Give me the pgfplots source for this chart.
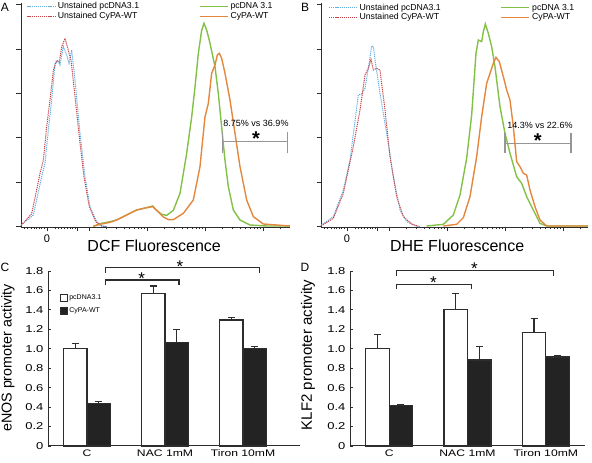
\documentclass[border=0pt]{standalone}
\usepackage{fontspec}
\setmainfont{Liberation Sans}
\usepackage{pgfplots}
\pgfplotsset{compat=1.18}

\definecolor{cblue}{RGB}{95,175,225}
\definecolor{cred}{RGB}{200,65,70}
\definecolor{cgreen}{RGB}{130,192,70}
\definecolor{corange}{RGB}{228,135,60}
\definecolor{cgray}{RGB}{150,150,150}
\definecolor{cdark}{RGB}{45,45,45}
\definecolor{cblack}{RGB}{35,35,35}

\pgfplotsset{
 flowaxis/.style={
  scale only axis, anchor=south west,
  xmin=63, ymin=0, ymax=672, height=224pt,
  axis lines=left, axis line style={-, line width=0.9pt, draw=cdark},
  clip=false,
  tick align=outside, tick style={draw=cdark, line width=0.6pt},
  major tick length=4.5pt, minor tick length=2.5pt,
  ytick={1,134,268,401,534,668}, yticklabels={},
  xtick={141,231,267,441,615,789}, xticklabels={0,{},{},{},{},{}},
  minor xtick={72,81,93,102,108,117,123,132,165,174,183,192,201,210,216,225,319,350,372,389,402,414,424,433,493,524,546,563,576,588,598,607,667,698,720,737,750,762,772,781,841},
  xticklabel style={font=\fontsize{11}{12}\selectfont},
  /pgf/number format/assume math mode=true,
  legend columns=2,
  legend cell align=left,
  legend image code/.code={\draw[#1] (0pt,0pt) -- (28pt,0pt);},
  legend style={draw=none, fill=none, anchor=north west, inner sep=0pt,
     font=\fontsize{8.7}{9}\selectfont, row sep=-2pt,
     /tikz/every even column/.append style={column sep=58pt}},
  xlabel style={font=\fontsize{16}{18}\selectfont, anchor=center},
 },
 unst/.style={line width=1pt, dash pattern=on 1.2pt off 0.9pt},
 stn/.style={line width=1.4pt},
 brk/.style={cgray, line width=1.2pt, forget plot},
 barax/.style={
  scale only axis, anchor=south west, height=175pt,
  ymin=0, ymax=1.8, ytick={0,0.2,0.4,0.6,0.8,1.0,1.2,1.4,1.6,1.8},
  yticklabels={0,0.2,0.4,0.6,0.8,1.0,1.2,1.4,1.6,1.8},
  axis lines=left, axis line style={-, line width=1pt, draw=cdark},
  xtick={0,1,2}, xticklabels={C,NAC 1mM,Tiron 10mM},
  xtick style={draw=none}, ytick style={draw=cdark, line width=0.8pt},
  tick align=inside, major tick length=3pt,
  clip=false,
  /pgf/number format/assume math mode=true,
  yticklabel style={font=\fontsize{10}{12}\selectfont, xscale=1.3},
  xticklabel style={font=\fontsize{9.5}{11}\selectfont, xscale=1.28},
  ylabel style={anchor=center},
 },
 wbar/.style={ybar, bar width=0.3, bar shift=-0.15, fill=white, draw=cdark, line width=1.3pt, forget plot},
 kbar/.style={ybar, bar width=0.3, bar shift=0.15, fill=cblack, draw=cdark, line width=1.3pt, forget plot},
 ebar/.style={draw=none, mark=none, forget plot,
   error bars/y dir=plus, error bars/y explicit, error bars/error mark=|,
   error bars/error bar style={line width=1.2pt, draw=cdark, solid},
   error bars/error mark options={line width=1.2pt, mark size=3.5pt, draw=cdark, solid}},
 sig/.style={cdark, line width=1.2pt, forget plot},
}

\begin{document}
\begin{tikzpicture}
\path[use as bounding box] (0pt,0pt) rectangle (592pt,463pt);

% ---------------- Panel A ----------------
\begin{axis}[flowaxis, at={(21pt,236pt)}, width=269pt, xmax=870,
  xlabel={DCF Fluorescence}, xlabel style={at={(axis description cs:0.495,-0.085)}},
  legend style={at={(axis cs:80,680)}}]
\addplot[unst, cblue] coordinates {(63,6)(100,36)(125,151)(135,191)(145,291)(155,381)(165,491)(175,496)(180,486)(190,541)(200,516)(207,491)(215,531)(225,441)(240,281)(255,151)(270,61)(290,16)(305,3)(320,1)};
\addlegendentry{Unstained pcDNA3.1}
\addplot[stn, cgreen] coordinates {(280,2)(300,10)(330,16)(350,21)(380,36)(410,51)(440,58)(458,63)(470,50)(485,38)(500,35)(520,50)(540,101)(560,221)(575,330)(585,420)(595,521)(605,590)(612,611)(620,591)(630,551)(645,481)(655,400)(665,300)(675,200)(685,121)(700,51)(720,21)(750,6)(800,3)(870,3)};
\addlegendentry{pcDNA 3.1}
\addplot[unst, cred] coordinates {(63,4)(95,40)(120,160)(130,200)(140,300)(150,380)(160,470)(170,500)(178,495)(185,540)(195,566)(205,530)(213,500)(222,420)(238,270)(252,150)(268,60)(288,15)(305,3)(320,1)};
\addlegendentry{Unstained CyPA-WT}
\addplot[stn, corange] coordinates {(280,2)(300,8)(330,14)(350,21)(380,36)(410,51)(440,58)(458,61)(470,50)(490,30)(505,22)(520,22)(550,41)(580,81)(600,181)(615,331)(625,371)(635,461)(645,486)(652,516)(658,521)(665,506)(675,461)(690,381)(705,281)(720,181)(740,81)(760,31)(790,9)(870,3)};
\addlegendentry{CyPA-WT}
\addplot[brk] coordinates {(668,286)(668,221)};
\addplot[brk] coordinates {(668,256)(862,256)};
\addplot[brk] coordinates {(862,286)(862,221)};
\node[font=\fontsize{9}{10}\selectfont] at (axis cs:768,311) {8.75\% vs 36.9\%};
\node[font=\fontsize{20}{20}\selectfont\bfseries, yshift=-4pt] at (axis cs:768,276) {*};
\end{axis}

% ---------------- Panel B ----------------
\begin{axis}[flowaxis, at={(321pt,236pt)}, width=267pt, xmax=864,
  xlabel={DHE Fluorescence}, xlabel style={at={(axis description cs:0.51,-0.085)}},
  legend style={at={(axis cs:85,676)}}]
\addplot[unst, cblue] coordinates {(63,5)(100,31)(130,111)(150,201)(175,396)(185,399)(195,416)(205,476)(215,543)(220,541)(228,481)(240,401)(260,281)(280,151)(300,51)(320,16)(345,4)(360,1)};
\addlegendentry{Unstained pcDNA3.1}
\addplot[stn, cgreen] coordinates {(380,3)(430,8)(460,36)(480,96)(500,206)(515,336)(528,521)(535,561)(545,556)(550,586)(556,609)(565,581)(575,541)(585,481)(600,361)(615,281)(630,221)(650,151)(665,131)(680,91)(700,51)(720,11)(740,3)(864,3)};
\addlegendentry{pcDNA 3.1}
\addplot[unst, cred] coordinates {(63,3)(100,26)(130,101)(160,241)(180,351)(195,456)(205,476)(213,503)(220,471)(230,476)(240,471)(255,351)(270,211)(290,91)(310,31)(335,9)(355,2)};
\addlegendentry{Unstained CyPA-WT}
\addplot[stn, corange] coordinates {(430,3)(470,8)(490,28)(510,91)(530,211)(545,331)(560,431)(570,461)(580,491)(588,509)(598,496)(610,451)(620,411)(630,381)(640,301)(650,196)(660,181)(670,161)(680,156)(690,111)(705,61)(720,21)(740,3)(864,3)};
\addlegendentry{CyPA-WT}
\addplot[brk] coordinates {(615,281)(615,223)};
\addplot[brk] coordinates {(615,251)(813,251)};
\addplot[brk] coordinates {(813,281)(813,223)};
\node[font=\fontsize{9}{10}\selectfont] at (axis cs:720,306) {14.3\% vs 22.6\%};
\node[font=\fontsize{20}{20}\selectfont\bfseries, yshift=-4pt] at (axis cs:713,271) {*};
\end{axis}

% ---------------- Panel C ----------------
\begin{axis}[barax, at={(48pt,17pt)}, width=252pt, xmin=-0.5, xmax=2.73,
  ylabel={eNOS promoter activity}, ylabel style={at={(axis description cs:-0.159,0.503)}, font=\fontsize{14.3}{16}\selectfont},
  legend style={draw=none, fill=none, at={(axis description cs:0.045,0.875)}, anchor=north west,
     inner sep=0pt, font=\fontsize{7}{8}\selectfont, row sep=2pt},
  legend cell align=left]
\addlegendimage{legend image code/.code={\draw[fill=white,draw=cdark,line width=0.8pt] (0pt,-3.5pt) rectangle (7pt,3.5pt);}}
\addlegendentry{pcDNA3.1}
\addlegendimage{legend image code/.code={\draw[fill=cblack,draw=cdark,line width=0.8pt] (0pt,-3.5pt) rectangle (7pt,3.5pt);}}
\addlegendentry{CyPA-WT}
\addplot[wbar] coordinates {(0,1.0) (1,1.569) (2,1.297)};
\addplot[kbar] coordinates {(0,0.44) (1,1.067) (2,1.005)};
\addplot[ebar] coordinates {(-0.15,1.0) +- (0,0.053) (0.85,1.569) +- (0,0.076) (1.85,1.297) +- (0,0.021)};
\addplot[ebar] coordinates {(0.15,0.44) +- (0,0.018) (1.15,1.067) +- (0,0.131) (2.15,1.005) +- (0,0.017)};
\addplot[sig] coordinates {(0.235,1.78)(0.235,1.834)(2.21,1.834)(2.21,1.78)};
\addplot[sig] coordinates {(0.235,1.655)(0.235,1.707)(1.18,1.707)(1.18,1.655)};
\node[font=\fontsize{17}{17}\selectfont, yshift=-3.6pt] at (axis cs:1.19,1.886) {*};
\node[font=\fontsize{17}{17}\selectfont, yshift=-3.6pt] at (axis cs:0.70,1.76) {*};
\end{axis}

% ---------------- Panel D ----------------
\begin{axis}[barax, at={(350pt,17pt)}, width=235pt, xmin=-0.5, xmax=2.5,
  ylabel={KLF2 promoter activity}, ylabel style={at={(axis description cs:-0.179,0.52)}, font=\fontsize{15}{17}\selectfont}]
\addplot[wbar] coordinates {(0,1.0) (1,1.401) (2,1.166)};
\addplot[kbar] coordinates {(0,0.413) (1,0.886) (2,0.914)};
\addplot[ebar] coordinates {(-0.15,1.0) +- (0,0.146) (0.85,1.401) +- (0,0.171) (1.85,1.166) +- (0,0.147)};
\addplot[ebar] coordinates {(0.15,0.413) +- (0,0.017) (1.15,0.886) +- (0,0.14) (2.15,0.914) +- (0,0.017)};
\addplot[sig] coordinates {(0.098,1.749)(0.098,1.807)(2.10,1.807)(2.10,1.749)};
\addplot[sig] coordinates {(0.098,1.613)(0.098,1.664)(1.05,1.664)(1.05,1.613)};
\node[font=\fontsize{17}{17}\selectfont, yshift=-3.6pt] at (axis cs:1.087,1.858) {*};
\node[font=\fontsize{17}{17}\selectfont, yshift=-3.6pt] at (axis cs:0.565,1.715) {*};
\end{axis}

% panel letters
\node[font=\fontsize{12}{12}\selectfont] at (5pt,456pt) {A};
\node[font=\fontsize{12}{12}\selectfont] at (305pt,456pt) {B};
\node[font=\fontsize{12}{12}\selectfont] at (5pt,196pt) {C};
\node[font=\fontsize{12}{12}\selectfont] at (305pt,196pt) {D};
\end{tikzpicture}
\end{document}
